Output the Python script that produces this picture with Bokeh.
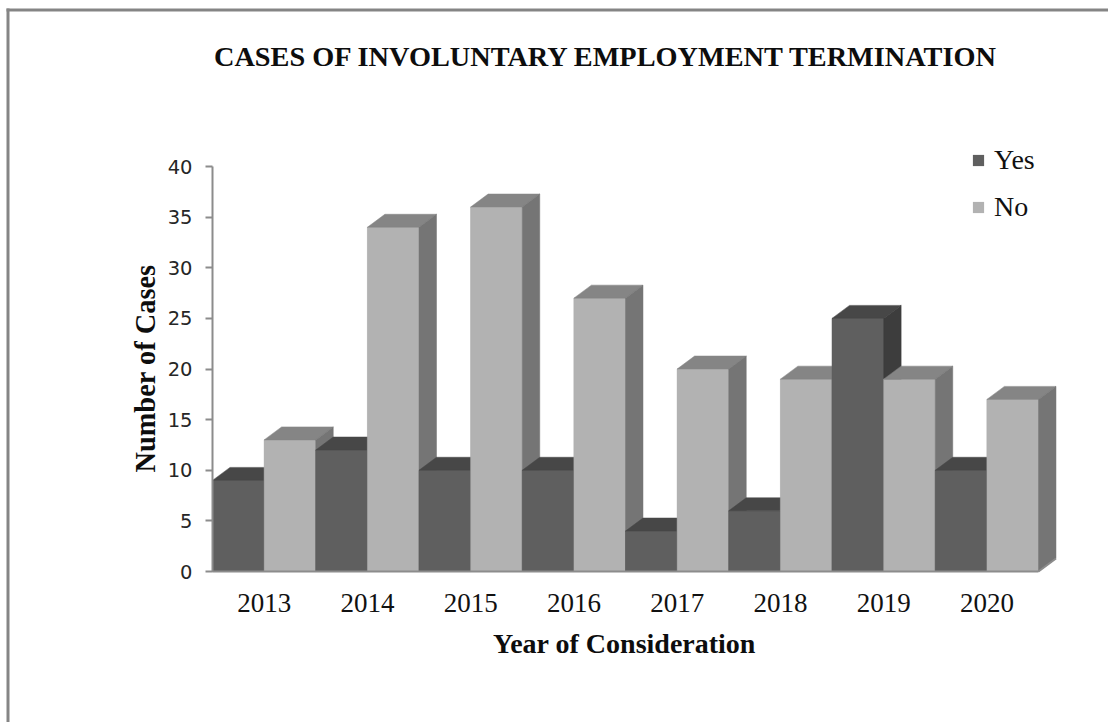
from bokeh.embed import file_html
from bokeh.resources import INLINE
from bokeh.plotting import figure
from bokeh.models import (BoxAnnotation, ColumnDataSource, FixedTicker, Label,
                          Legend, LegendItem)

years = ["2013", "2014", "2015", "2016", "2017", "2018", "2019", "2020"]
yes_cases = [9, 12, 10, 10, 4, 6, 25, 10]
no_cases = [13, 34, 36, 27, 20, 19, 19, 17]
value_ticks = [0, 5, 10, 15, 20, 25, 30, 35, 40]

# Palette per series: front, top and side faces of a bar
YES_FACES = ("#5f5f5f", "#474747", "#3d3d3d")
NO_FACES = ("#b2b2b2", "#858585", "#757575")

# Pixel layout: the data frame spans the whole canvas, axes sit at fixed data positions
LEFT, BOTTOM, PX_PER_YEAR, PX_PER_CASE = 212, 571, 103.25, 10.125
WIDTH, HEIGHT = 1108, 722

# Oblique depth of the bars, in data units
DEPTH_X = 17.5 / PX_PER_YEAR
DEPTH_Y = 13 / PX_PER_CASE
BAR = 0.5

xs, ys, fills, lines = [], [], [], []


def add_bar(x0, value, faces):
    x1 = x0 + BAR
    dx, dy = DEPTH_X, DEPTH_Y
    polys = [
        ([x0, x1, x1, x0], [0, 0, value, value]),
        ([x0, x1, x1 + dx, x0 + dx], [value, value, value + dy, value + dy]),
        ([x1, x1 + dx, x1 + dx, x1], [0, dy, value + dy, value]),
    ]
    for (px, py), colour in zip(polys, faces):
        xs.append(px)
        ys.append(py)
        fills.append(colour)
        lines.append(colour)


# Bars are painted left to right so each one hides the side face of its neighbour
for i, (y_val, n_val) in enumerate(zip(yes_cases, no_cases)):
    add_bar(i, y_val, YES_FACES)
    add_bar(i + BAR, n_val, NO_FACES)

p = figure(
    width=WIDTH, height=HEIGHT, output_backend="svg", toolbar_location=None,
    x_range=(-LEFT / PX_PER_YEAR, (WIDTH - LEFT) / PX_PER_YEAR),
    y_range=((BOTTOM - HEIGHT) / PX_PER_CASE, BOTTOM / PX_PER_CASE),
    min_border=0,
    background_fill_color="white", border_fill_color="white",
)
p.grid.visible = False
p.outline_line_color = None

# Front faces of each series; these also supply the legend keys
year_pos = list(range(len(years)))
yes_key = p.quad(left=year_pos, right=[i + BAR for i in year_pos], bottom=0, top=yes_cases,
                 fill_color=YES_FACES[0], line_color=None)
no_key = p.quad(left=[i + BAR for i in year_pos], right=[i + 2 * BAR for i in year_pos], bottom=0, top=no_cases,
                fill_color=NO_FACES[0], line_color=None)

p.patches("xs", "ys", fill_color="fill", line_color="line", line_width=0.5,
          source=ColumnDataSource(dict(xs=xs, ys=ys, fill=fills, line=lines)))

# Floor edge running back from the end of the category axis
p.line([8, 8 + DEPTH_X], [0, DEPTH_Y], line_color="#8c8c8c", line_width=2)

xax = p.xaxis[0]
xax.fixed_location = 0
xax.ticker = FixedTicker(ticks=[i + 0.5 for i in range(len(years))])
xax.major_label_overrides = {i + 0.5: y for i, y in enumerate(years)}
xax.bounds = (0, 8)
xax.major_tick_line_color = None
xax.minor_tick_line_color = None
xax.axis_line_color = "#8c8c8c"
xax.axis_line_width = 2
xax.major_label_standoff = 16
xax.major_label_text_font = "Liberation Serif"
xax.major_label_text_font_size = "27px"
xax.major_label_text_color = "#111111"

yax = p.yaxis[0]
yax.fixed_location = 0
yax.ticker = FixedTicker(ticks=value_ticks)
yax.bounds = (0, 40)
yax.minor_tick_line_color = None
yax.major_tick_in = 0
yax.major_tick_out = 7
yax.major_tick_line_color = "#8c8c8c"
yax.major_tick_line_width = 2
yax.axis_line_color = "#8c8c8c"
yax.axis_line_width = 2
yax.major_label_standoff = 13
yax.major_label_text_font = "DejaVu Sans"
yax.major_label_text_font_size = "19.5px"
yax.major_label_text_color = "#262626"

legend = Legend(
    items=[LegendItem(label="Yes", renderers=[yes_key]), LegendItem(label="No", renderers=[no_key])],
    location=(973 - 10 + 8, HEIGHT - 235 + 12),
    orientation="vertical", glyph_width=14, glyph_height=14, spacing=15,
    label_text_font="Liberation Serif", label_text_font_size="28px", label_text_color="#111111",
    label_standoff=9, label_height=30, background_fill_alpha=0, border_line_color=None,
    padding=10, margin=0,
)
p.add_layout(legend, "center")


def screen_label(text, x, y, size, angle=0.0):
    # Annotation screen coordinates count upward from the bottom edge
    p.add_layout(Label(
        x=x, y=HEIGHT - y, x_units="screen", y_units="screen", text=text, angle=angle,
        text_align="center", text_baseline="middle",
        text_font="Liberation Serif", text_font_style="bold",
        text_font_size=size, text_color="#0d0d0d",
    ))


screen_label("CASES OF INVOLUNTARY EMPLOYMENT TERMINATION", 606, 56, "28.3px")
screen_label("Year of Consideration", 624, 643, "28px")
screen_label("Number of Cases", 145, 368, "28.4px", angle=1.5708)

# Page frame: only the top and left rules are visible
for rule in (dict(left=6, right=WIDTH, top=HEIGHT - 8, bottom=HEIGHT - 11),
             dict(left=6, right=9, top=HEIGHT - 8, bottom=0)):
    p.add_layout(BoxAnnotation(
        left_units="screen", right_units="screen", top_units="screen", bottom_units="screen",
        fill_color="#858585", fill_alpha=1, line_color=None, level="overlay", **rule,
    ))

open("out.html", "w").write(file_html(p, INLINE))
